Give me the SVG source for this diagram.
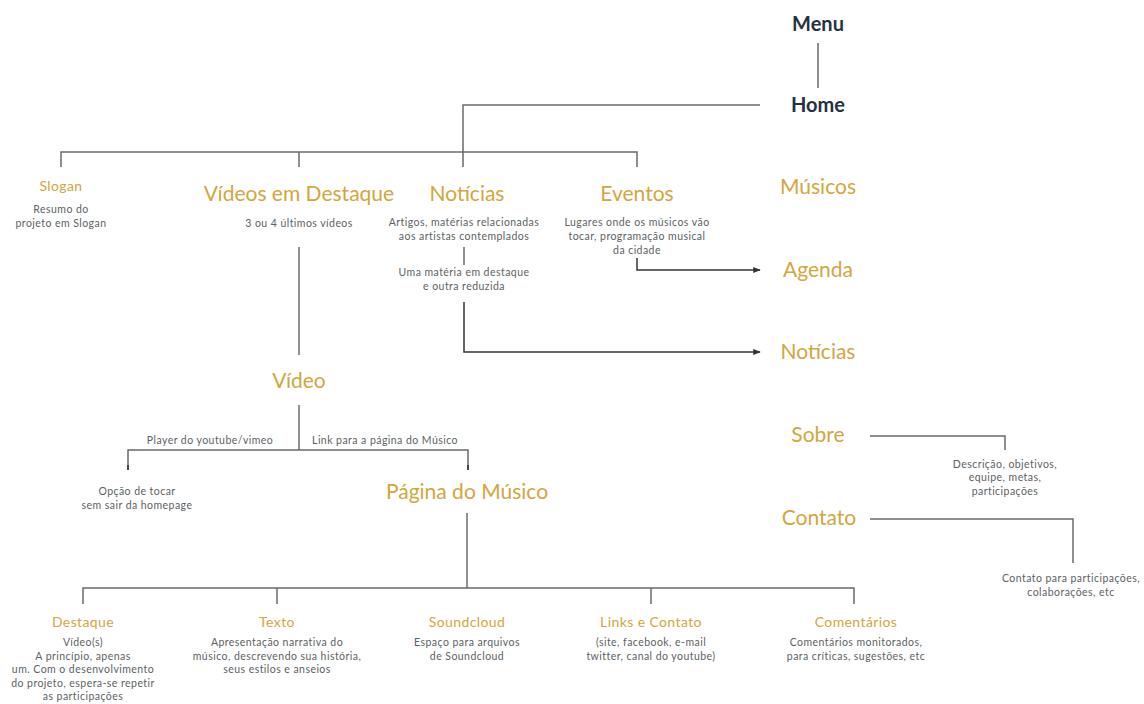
<svg xmlns="http://www.w3.org/2000/svg" width="1144" height="704" viewBox="0 0 1144 704">
<style>
.bg{fill:#ffffff}
.nav{font-family:Lato,"Liberation Sans",sans-serif;font-weight:bold;font-size:20px;fill:#26313f;text-anchor:middle}
.big{font-family:Lato,"Liberation Sans",sans-serif;font-size:21px;fill:#d2a640;text-anchor:middle}
.sm{font-family:Lato,"Liberation Sans",sans-serif;font-size:14px;fill:#d2a640;text-anchor:middle;letter-spacing:0.4px}
.d{font-family:Lato,"Liberation Sans",sans-serif;font-size:10.5px;fill:#5c5f63;text-anchor:middle;letter-spacing:0.45px}
.ln{fill:none;stroke:#6a6a6a;stroke-width:1.5}
</style>
<defs>
<marker id="ah" viewBox="0 0 10 10" refX="9" refY="5" markerWidth="5" markerHeight="5" orient="auto">
<path d="M0,1 L10,5 L0,9 z" fill="#333"/>
</marker>
</defs>
<rect class="bg" x="0" y="0" width="1144" height="704"/>
<g id="connectors">
<path class="ln" d="M818,43 V88"/>
<path class="ln" d="M760,105 H463 V167"/>
<path class="ln" d="M61,167 V152 H637 V167"/>
<path class="ln" d="M299,152 V167"/>
<path class="ln" d="M464,247 V265"/>
<path class="ln" d="M637,258 V270 H760" marker-end="url(#ah)" style="stroke:#333"/>
<path class="ln" d="M464,302 V352 H760" marker-end="url(#ah)" style="stroke:#333"/>
<path class="ln" d="M299,247 V355"/>
<path class="ln" d="M299,405 V450"/>
<path class="ln" d="M128,468 V450 H468 V468"/>
<path d="M128,465 V470 M468,465 V470" stroke="#444" stroke-width="2"/>
<path class="ln" d="M467,513 V588"/>
<path class="ln" d="M83,604 V588 H854 V604"/>
<path class="ln" d="M277,588 V604"/>
<path class="ln" d="M651,588 V604"/>
<path class="ln" d="M870,436 H1005 V450"/>
<path class="ln" d="M870,519 H1073 V563"/>
</g>
<g id="menu"><text class="nav" x="818" y="31">Menu</text></g>
<g id="home"><text class="nav" x="818" y="112">Home</text></g>
<g id="slogan">
<text class="sm" x="61" y="191">Slogan</text>
<text class="d" x="61" y="213">Resumo do</text>
<text class="d" x="61" y="227">projeto em Slogan</text>
</g>
<g id="videos-destaque">
<text class="big" x="299" y="201">Vídeos em Destaque</text>
<text class="d" x="299" y="227">3 ou 4 últimos vídeos</text>
</g>
<g id="noticias">
<text class="big" x="467" y="201">Notícias</text>
<text class="d" x="464" y="226">Artigos, matérias relacionadas</text>
<text class="d" x="464" y="240">aos artistas contemplados</text>
<text class="d" x="464" y="276">Uma matéria em destaque</text>
<text class="d" x="464" y="290">e outra reduzida</text>
</g>
<g id="eventos">
<text class="big" x="637" y="201">Eventos</text>
<text class="d" x="637" y="226">Lugares onde os músicos vão</text>
<text class="d" x="637" y="240">tocar, programação musical</text>
<text class="d" x="637" y="254">da cidade</text>
</g>
<g id="musicos"><text class="big" x="818" y="194">Músicos</text></g>
<g id="agenda"><text class="big" x="818" y="277">Agenda</text></g>
<g id="noticias-menu"><text class="big" x="818" y="359">Notícias</text></g>
<g id="video">
<text class="big" x="299" y="388">Vídeo</text>
<text class="d" x="210" y="444">Player do youtube/vimeo</text>
<text class="d" x="385" y="444">Link para a página do Músico</text>
</g>
<g id="opcao">
<text class="d" x="137" y="495">Opção de tocar</text>
<text class="d" x="137" y="509">sem sair da homepage</text>
</g>
<g id="pagina-musico"><text class="big" x="467" y="499">Página do Músico</text></g>
<g id="sobre">
<text class="big" x="818" y="442">Sobre</text>
<text class="d" x="1005" y="468">Descrição, objetivos,</text>
<text class="d" x="1005" y="481">equipe, metas,</text>
<text class="d" x="1005" y="495">participações</text>
</g>
<g id="contato">
<text class="big" x="819" y="525">Contato</text>
<text class="d" x="1071" y="582">Contato para participações,</text>
<text class="d" x="1071" y="596">colaborações, etc</text>
</g>
<g id="destaque">
<text class="sm" x="83" y="627">Destaque</text>
<text class="d" x="83" y="646">Vídeo(s)</text>
<text class="d" x="83" y="659.5">A princípio, apenas</text>
<text class="d" x="83" y="673">um. Com o desenvolvimento</text>
<text class="d" x="83" y="686.5">do projeto, espera-se repetir</text>
<text class="d" x="83" y="700">as participações</text>
</g>
<g id="texto">
<text class="sm" x="277" y="627">Texto</text>
<text class="d" x="277" y="646">Apresentação narrativa do</text>
<text class="d" x="277" y="659.5">músico, descrevendo sua história,</text>
<text class="d" x="277" y="673">seus estilos e anseios</text>
</g>
<g id="soundcloud">
<text class="sm" x="467" y="627">Soundcloud</text>
<text class="d" x="467" y="646">Espaço para arquivos</text>
<text class="d" x="467" y="659.5">de Soundcloud</text>
</g>
<g id="links">
<text class="sm" x="651" y="627">Links e Contato</text>
<text class="d" x="651" y="646">(site, facebook, e-mail</text>
<text class="d" x="651" y="659.5">twitter, canal do youtube)</text>
</g>
<g id="comentarios">
<text class="sm" x="856" y="627">Comentários</text>
<text class="d" x="856" y="646">Comentários monitorados,</text>
<text class="d" x="856" y="659.5">para críticas, sugestões, etc</text>
</g>
</svg>
